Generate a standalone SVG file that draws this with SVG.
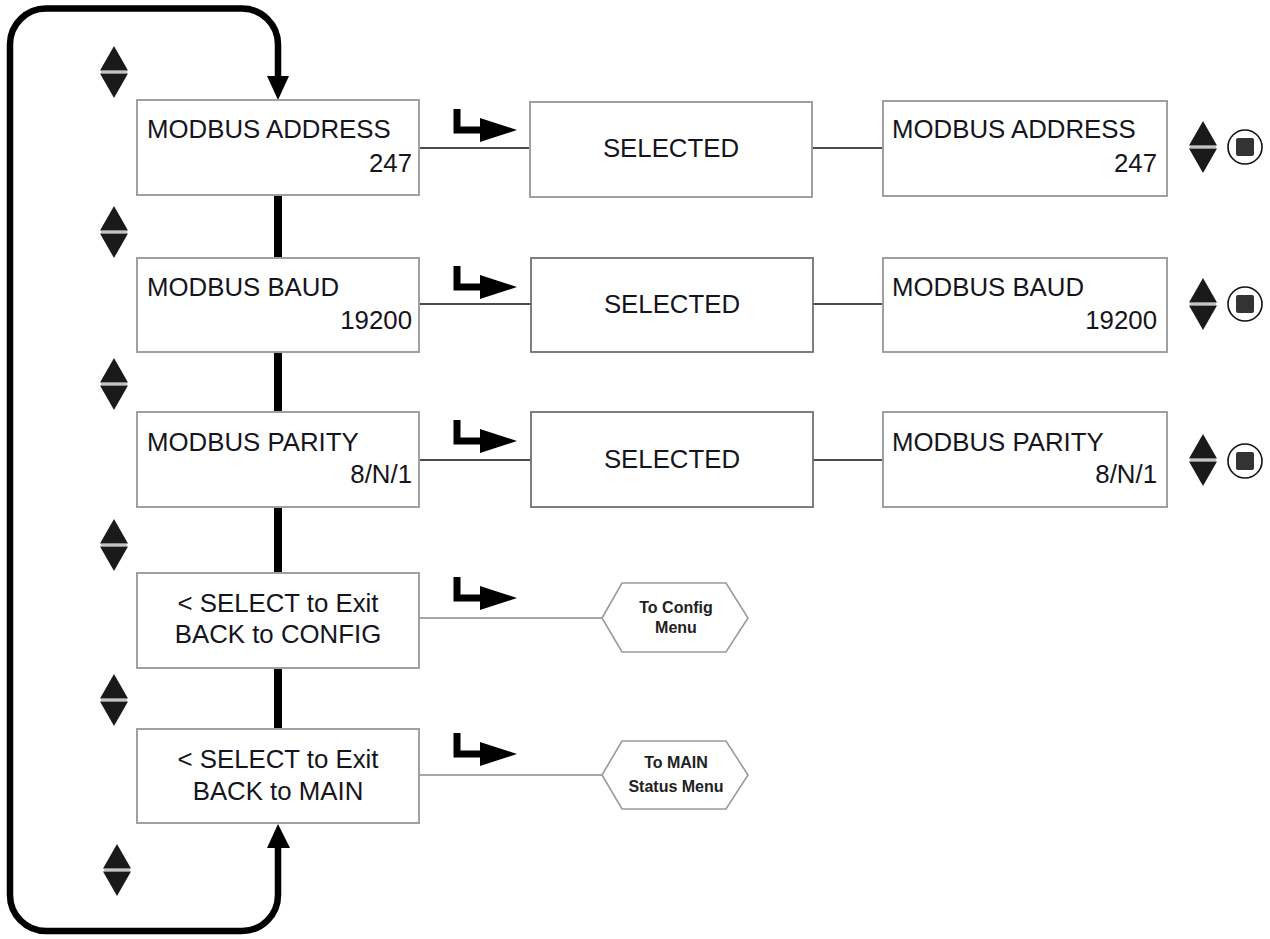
<svg xmlns="http://www.w3.org/2000/svg" width="1270" height="939" viewBox="0 0 1270 939">
<style>
.box{fill:#fff;stroke:#a0a0a0;stroke-width:2}
.boxd{fill:#fff;stroke:#707070;stroke-width:1.8}
.t{font-family:"Liberation Sans",Arial,sans-serif;font-size:25.8px;fill:#151520}
.tr{text-anchor:end}
.tc{text-anchor:middle}
.h{font-family:"Liberation Sans",Arial,sans-serif;font-size:16px;font-weight:bold;fill:#222;text-anchor:middle}
.hex{fill:#fff;stroke:#9a9a9a;stroke-width:1.6}
.spine{stroke:#000;stroke-width:8;fill:none}
.loop{stroke:#000;stroke-width:6.5;fill:none}
.link{stroke:#111;stroke-width:1.6;fill:none}
.linkl{stroke:#8a8a8a;stroke-width:1.4;fill:none}
.bend{stroke:#000;stroke-width:7;fill:none;stroke-linejoin:miter}
.ah{fill:#000}
.tri{fill:#1a1a1a}
.sep{stroke:#b0b0b0;stroke-width:1.5}
.btn{fill:#fff;stroke:#111;stroke-width:1.6}
.sq{fill:#333}
</style>
<defs>
<g id="updown">
<polygon class="tri" points="0,-26 14,-1.5 -14,-1.5"/>
<polygon class="tri" points="-14,1.5 14,1.5 0,26"/>
<line class="sep" x1="-13" y1="0" x2="13" y2="0"/>
</g>
<g id="bent">
<path class="bend" d="M457,0 V21 H482"/>
<polygon class="ah" points="480,9 517,21 480,33"/>
</g>
<g id="stopbtn">
<circle class="btn" cx="0" cy="0" r="17"/>
<rect class="sq" x="-9" y="-9" width="18" height="18" rx="2"/>
</g>
</defs>

<g id="connectors">
<path class="loop" d="M278,848 V895 A36,36 0 0 1 242,931 H46 A36,36 0 0 1 10,895 V44 A36,36 0 0 1 46,8.5 H242 A36,36 0 0 1 278,44.5 V77"/>
<polygon class="ah" points="267,76 289,76 278,100"/>
<polygon class="ah" points="267,848 290,848 278,824"/>
<line class="spine" x1="278" y1="195" x2="278" y2="258"/>
<line class="spine" x1="278" y1="352" x2="278" y2="412"/>
<line class="spine" x1="278" y1="507" x2="278" y2="573"/>
<line class="spine" x1="278" y1="668" x2="278" y2="729"/>
<line class="link" x1="419" y1="148" x2="530" y2="148"/>
<line class="link" x1="812" y1="148" x2="883" y2="148"/>
<line class="link" x1="419" y1="304" x2="531" y2="304"/>
<line class="link" x1="813" y1="304" x2="883" y2="304"/>
<line class="link" x1="419" y1="460" x2="531" y2="460"/>
<line class="link" x1="813" y1="460" x2="883" y2="460"/>
<line class="linkl" x1="419" y1="618" x2="602" y2="618"/>
<line class="linkl" x1="419" y1="775" x2="602" y2="775"/>
<use href="#bent" transform="translate(0,109)"/>
<use href="#bent" transform="translate(0,266)"/>
<use href="#bent" transform="translate(0,420)"/>
<use href="#bent" transform="translate(0,577)"/>
<use href="#bent" transform="translate(0,733)"/>
</g>

<g id="nav-icons">
<use href="#updown" x="114" y="72"/>
<use href="#updown" x="114" y="232"/>
<use href="#updown" x="114" y="384"/>
<use href="#updown" x="114" y="545"/>
<use href="#updown" x="114" y="700"/>
<use href="#updown" x="117" y="870"/>
<use href="#updown" x="1203" y="147"/>
<use href="#updown" x="1203" y="304"/>
<use href="#updown" x="1203" y="460"/>
<use href="#stopbtn" x="1245" y="147"/>
<use href="#stopbtn" x="1245" y="304"/>
<use href="#stopbtn" x="1245" y="461"/>
</g>

<g id="node-addr">
<rect class="box" x="137" y="100" width="282" height="95"/>
<text class="t" x="147" y="138">MODBUS ADDRESS</text>
<text class="t tr" x="412" y="172">247</text>
</g>
<g id="node-baud">
<rect class="box" x="137" y="258" width="282" height="94"/>
<text class="t" x="147" y="296">MODBUS BAUD</text>
<text class="t tr" x="412" y="329">19200</text>
</g>
<g id="node-parity">
<rect class="box" x="137" y="412" width="282" height="95"/>
<text class="t" x="147" y="451">MODBUS PARITY</text>
<text class="t tr" x="412" y="483">8/N/1</text>
</g>
<g id="node-exit-config">
<rect class="box" x="137" y="573" width="282" height="95"/>
<text class="t tc" x="278" y="612">&lt; SELECT to Exit</text>
<text class="t tc" x="278" y="643">BACK to CONFIG</text>
</g>
<g id="node-exit-main">
<rect class="box" x="137" y="729" width="282" height="94"/>
<text class="t tc" x="278" y="768">&lt; SELECT to Exit</text>
<text class="t tc" x="278" y="800">BACK to MAIN</text>
</g>

<g id="node-sel-addr">
<rect class="box" x="530" y="102" width="282" height="95"/>
<text class="t tc" x="671" y="157">SELECTED</text>
</g>
<g id="node-sel-baud">
<rect class="boxd" x="531" y="258" width="282" height="94"/>
<text class="t tc" x="672" y="313">SELECTED</text>
</g>
<g id="node-sel-parity">
<rect class="boxd" x="531" y="412" width="282" height="95"/>
<text class="t tc" x="672" y="468">SELECTED</text>
</g>

<g id="node-edit-addr">
<rect class="box" x="883" y="101" width="284" height="95"/>
<text class="t" x="892" y="138">MODBUS ADDRESS</text>
<text class="t tr" x="1157" y="172">247</text>
</g>
<g id="node-edit-baud">
<rect class="box" x="883" y="258" width="284" height="94"/>
<text class="t" x="892" y="296">MODBUS BAUD</text>
<text class="t tr" x="1157" y="329">19200</text>
</g>
<g id="node-edit-parity">
<rect class="box" x="883" y="412" width="284" height="95"/>
<text class="t" x="892" y="451">MODBUS PARITY</text>
<text class="t tr" x="1157" y="483">8/N/1</text>
</g>

<g id="node-to-config">
<polygon class="hex" points="602,618 622,583 726,583 748,618 726,652 622,652"/>
<text class="h" x="676" y="613">To Config</text>
<text class="h" x="676" y="633">Menu</text>
</g>
<g id="node-to-main">
<polygon class="hex" points="602,775 622,741 726,741 748,775 726,809 622,809"/>
<text class="h" x="676" y="768">To MAIN</text>
<text class="h" x="676" y="792">Status Menu</text>
</g>
</svg>
